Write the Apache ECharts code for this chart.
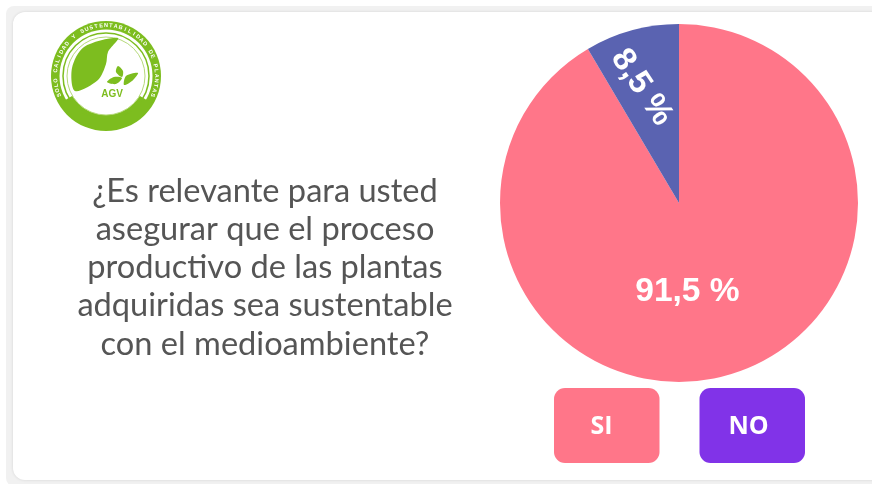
<!DOCTYPE html>
<html><head><meta charset="utf-8">
<style>html,body{margin:0;padding:0;background:#fff}#c{width:872px;height:484px}</style>
<script src="https://cdn.jsdelivr.net/npm/echarts@6/dist/echarts.min.js"></script>
</head><body><div id="c"></div>
<script>
const categories = ['SI','NO'];
const values = [91.5, 8.5];
const valueLabels = ['91,5 %','8,5 %'];
const sliceColors = ['#ff7689','#5a63b1'];
const buttonColors = ['#ff7689','#8133e8'];
const question = ['¿Es relevante para usted','asegurar que el proceso','productivo de las plantas','adquiridas sea sustentable','con el medioambiente?'];
const logoRingText = 'SOLO CALIDAD Y SUSTENTABILIDAD DE PLANTAS';
const G='#7dbd1f';
const chart = echarts.init(document.getElementById('c'));
const ringChars = logoRingText.split('').map((ch,i,a)=>{
  const deg=(-112+224*i/(a.length-1))*Math.PI/180;
  return {type:'text',x:106+50.5*Math.sin(deg),y:76-50.5*Math.cos(deg),rotation:-deg,
    style:{text:ch,fill:'#fff',align:'center',verticalAlign:'middle',font:'bold 5.5px "Liberation Sans"'}};
});
const logo = [
 {type:'circle',shape:{cx:106,cy:76,r:55},style:{fill:G}},
 {type:'circle',shape:{cx:106,cy:76,r:46.5},style:{fill:'#fff'}},
 {type:'sector',shape:{cx:106,cy:76,r:54,r0:39,startAngle:0.17*Math.PI,endAngle:0.83*Math.PI},style:{fill:G}},
 {type:'circle',shape:{cx:106,cy:76,r:43},style:{fill:'none',stroke:G,lineWidth:1.5}},
 {type:'circle',shape:{cx:106,cy:76,r:39},style:{fill:'#fff',stroke:'#b5d97a',lineWidth:1}},
 {type:'polygon',shape:{points:[[75,91],[72,68],[84,47],[118,38],[108,52],[106,64],[98,80]],smooth:0.3},style:{fill:G}},
 {type:'polygon',shape:{points:[[107,82],[114,77],[122,78],[116,84]],smooth:0.3},style:{fill:G}},
 {type:'polygon',shape:{points:[[124,85],[126,76],[138,73],[132,81]],smooth:0.3},style:{fill:G}},
 {type:'polygon',shape:{points:[[122,77],[116,72],[118,66],[123,71]],smooth:0.3},style:{fill:G}},
 {type:'text',style:{x:112,y:94,text:'AGV',fill:G,align:'center',verticalAlign:'middle',font:'bold 10px "Liberation Sans"'}},
 ...ringChars
];
chart.setOption({
 animation:false,
 backgroundColor:'#fff',
 graphic:{elements:[
  {type:'rect',z:0,shape:{x:6,y:6,width:900,height:480,r:8},style:{fill:'#f1f1f1'}},
  {type:'rect',z:1,shape:{x:13,y:12,width:900,height:468,r:12},style:{fill:'#fff',shadowBlur:3,shadowColor:'rgba(0,0,0,0.12)'}},
  ...logo.map(e=>({...e,z:2})),
  ...question.map((t,i)=>({type:'text',z:2,style:{x:265,y:191+i*38.3,text:t,fill:'#555',align:'center',verticalAlign:'middle',font:'32.6px Lato'}})),
  ...categories.map((t,i)=>({type:'rect',z:2,shape:{x:554+i*145.5,y:388,width:105.5,height:75,r:11},style:{fill:buttonColors[i]}})),
  ...categories.map((t,i)=>({type:'text',z:3,style:{x:601.5+i*147,y:427,text:t,fill:'#fff',align:'center',verticalAlign:'middle',font:'700 25px "Open Sans"'}}))
 ]},
 series:[{
  type:'pie',z:3,center:[679,203],radius:[0,179],startAngle:90,clockwise:true,
  silent:true,labelLine:{show:false},
  labelLayout:p=>p.dataIndex?{dx:-29,dy:-4}:{dx:-16,dy:0},
  data:categories.map((n,i)=>({
    name:n,value:values[i],itemStyle:{color:sliceColors[i]},
    label:{show:true,position:'inside',formatter:valueLabels[i],color:'#fff',fontFamily:'Liberation Sans',fontWeight:'bold',fontSize:i?33:33.5,rotate:i?-56:0}
  }))
 }]
});
</script></body></html>
